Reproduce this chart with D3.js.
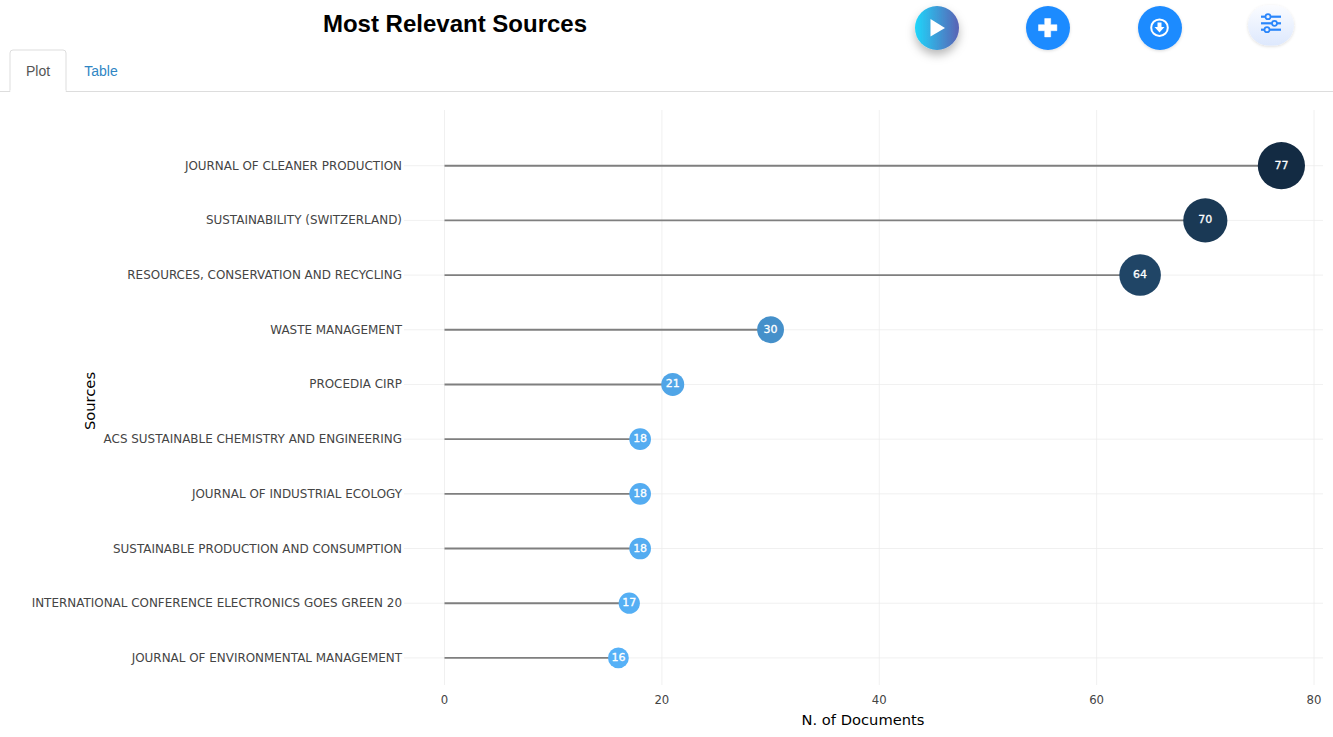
<!DOCTYPE html>
<html><head><meta charset="utf-8">
<script src="https://cdn.jsdelivr.net/npm/d3@7"></script>
<style>
html,body{margin:0;padding:0;background:#fff;overflow:hidden}
svg{display:block}
text{font-family:"DejaVu Sans",sans-serif}
</style></head><body>
<svg id="c" width="1333" height="737"></svg>
<script>
const sources=["JOURNAL OF CLEANER PRODUCTION","SUSTAINABILITY (SWITZERLAND)","RESOURCES, CONSERVATION AND RECYCLING","WASTE MANAGEMENT","PROCEDIA CIRP","ACS SUSTAINABLE CHEMISTRY AND ENGINEERING","JOURNAL OF INDUSTRIAL ECOLOGY","SUSTAINABLE PRODUCTION AND CONSUMPTION","INTERNATIONAL CONFERENCE ELECTRONICS GOES GREEN 20","JOURNAL OF ENVIRONMENTAL MANAGEMENT"];
const documents=[77,70,64,30,21,18,18,18,17,16];
const xTicks=[0,20,40,60,80];
const tabs=["Plot","Table"];

(function(){
const svg=d3.select("#c");
const defs=svg.append("defs");
const g1=defs.append("linearGradient").attr("id","play");
g1.append("stop").attr("offset","0%").attr("stop-color","#1fd6fb");
g1.append("stop").attr("offset","100%").attr("stop-color","#5a62b4");
const g2=defs.append("linearGradient").attr("id","opt").attr("x1",0).attr("x2",0).attr("y1",0).attr("y2",1);
g2.append("stop").attr("offset","0%").attr("stop-color","#fbfcff");
g2.append("stop").attr("offset","100%").attr("stop-color","#dde8fd");
const f1=defs.append("filter").attr("id","sh1").attr("x","-60%").attr("y","-60%").attr("width","220%").attr("height","220%");
f1.append("feDropShadow").attr("dx",0).attr("dy",5).attr("stdDeviation",5).attr("flood-color","#000").attr("flood-opacity",.28);
const f2=defs.append("filter").attr("id","sh2").attr("x","-40%").attr("y","-40%").attr("width","180%").attr("height","180%");
f2.append("feDropShadow").attr("dx",0).attr("dy",1).attr("stdDeviation",1.5).attr("flood-color","#000").attr("flood-opacity",.14);

// Header
svg.append("text").attr("x",455).attr("y",32).attr("text-anchor","middle")
  .style("font-family","'Liberation Sans',sans-serif").style("font-weight",700).style("font-size","24px").attr("fill","#000").text("Most Relevant Sources");

// Tabs
svg.append("line").attr("x1",0).attr("x2",1333).attr("y1",91.5).attr("y2",91.5).attr("stroke","#ddd");
svg.append("path").attr("d","M10,92V53a3,3 0 0 1 3,-3H63a3,3 0 0 1 3,3V92").attr("fill","#fff").attr("stroke","#ddd");
svg.append("rect").attr("x",10.5).attr("y",90).attr("width",55).attr("height",3).attr("fill","#fff");
svg.selectAll(".tab").data(tabs).join("text").attr("class","tab")
  .attr("x",(d,i)=>i?101:38).attr("y",76).attr("text-anchor","middle")
  .style("font-family","'Liberation Sans',sans-serif").style("font-size","14px")
  .attr("fill",(d,i)=>i?"#2f86c4":"#555").text(d=>d);

// Buttons
svg.append("circle").attr("cx",937).attr("cy",28).attr("r",22).attr("fill","url(#play)").attr("filter","url(#sh1)");
svg.append("path").attr("d","M930.5,19L945,28L930.5,36.500Z").attr("fill","#fff");
svg.append("circle").attr("cx",1048).attr("cy",28).attr("r",22).attr("fill","#1e8bff").attr("filter","url(#sh2)");
svg.append("path").attr("d","M1044.700,18.500h6v6.200h6.200v6h-6.200v6.200h-6v-6.200h-6.200v-6h6.200Z").attr("fill","#fff").attr("stroke","#fff").attr("stroke-width",.5).attr("stroke-linejoin","round");
svg.append("circle").attr("cx",1160).attr("cy",28).attr("r",22).attr("fill","#1e8bff").attr("filter","url(#sh2)");
svg.append("circle").attr("cx",1159.500).attr("cy",27.700).attr("r",8.300).attr("fill","none").attr("stroke","#fff").attr("stroke-width",2);
svg.append("path").attr("d","M1157.500,22.500h4v4.500h3l-5,5.500l-5,-5.500h3Z").attr("fill","#fff");
svg.append("rect").attr("x",1248).attr("y",5).attr("width",46).attr("height",40.500).attr("rx",20.500).attr("fill","url(#opt)").attr("filter","url(#sh2)");
const sl=svg.append("g").attr("stroke","#2a86fb").attr("stroke-width",2.200).attr("fill","#eef3fe");
[[16.700,1268],[23.300,1274.500],[29.700,1267]].forEach(([yy,xx])=>{
  sl.append("line").attr("x1",1261).attr("x2",1281).attr("y1",yy).attr("y2",yy);
  sl.append("circle").attr("cx",xx).attr("cy",yy).attr("r",2.500).attr("stroke-width",1.700);
});

// Chart
const x=d3.scaleLinear().domain([0,80]).range([444.5,1314]);
const y=d3.scalePoint().domain(sources).range([165.7,657.9]);
const color=d3.scaleLinear().domain([16,77]).range(["#56B1F7","#132B43"]).interpolate(d3.interpolateLab);
const r=d3.scaleLinear().domain([16,77]).range([10.4,23.6]);
const plotLeft=404, plotRight=1323, plotTop=110, plotBottom=685;

const grid=svg.append("g").attr("stroke","#ebebeb").attr("stroke-opacity",.75).attr("stroke-width",1);
grid.selectAll(".v").data(xTicks).join("line").attr("class","v").attr("x1",d=>x(d)).attr("x2",d=>x(d)).attr("y1",plotTop).attr("y2",plotBottom);
grid.selectAll(".h").data(sources).join("line").attr("class","h").attr("x1",plotLeft).attr("x2",plotRight).attr("y1",d=>y(d)).attr("y2",d=>y(d));

const data=sources.map((s,i)=>({s,v:documents[i]}));
svg.append("g").selectAll("line").data(data).join("line")
  .attr("x1",x(0)).attr("x2",d=>x(d.v)).attr("y1",d=>y(d.s)).attr("y2",d=>y(d.s))
  .attr("stroke","#7f7f7f").attr("stroke-width",1.9);
svg.append("g").selectAll("circle").data(data).join("circle")
  .attr("cx",d=>x(d.v)).attr("cy",d=>y(d.s)).attr("r",d=>r(d.v)).attr("fill",d=>color(d.v));
svg.append("g").selectAll("text").data(data).join("text")
  .attr("x",d=>x(d.v)).attr("y",d=>y(d.s)+3).attr("text-anchor","middle")
  .style("font-size","11px").attr("stroke","#fff").attr("stroke-width",.3).attr("fill","#fff").text(d=>d.v);

// Axis tick labels
svg.append("g").selectAll("text").data(sources).join("text")
  .attr("x",402).attr("y",d=>y(d)+4).attr("text-anchor","end")
  .style("font-size","11.950px").attr("fill","#444").text(d=>d);
svg.append("g").selectAll("text").data(xTicks).join("text")
  .attr("x",d=>x(d)).attr("y",704).attr("text-anchor","middle")
  .style("font-size","11.700px").attr("fill","#444").text(d=>d);

// Axis titles
svg.append("text").attr("x",863).attr("y",725).attr("text-anchor","middle")
  .style("font-size","14.700px").attr("fill","#000").text("N. of Documents");
svg.append("text").attr("transform","translate(95,401) rotate(-90)").attr("text-anchor","middle")
  .style("font-size","14.700px").attr("fill","#000").text("Sources");
})();
</script>
</body></html>
